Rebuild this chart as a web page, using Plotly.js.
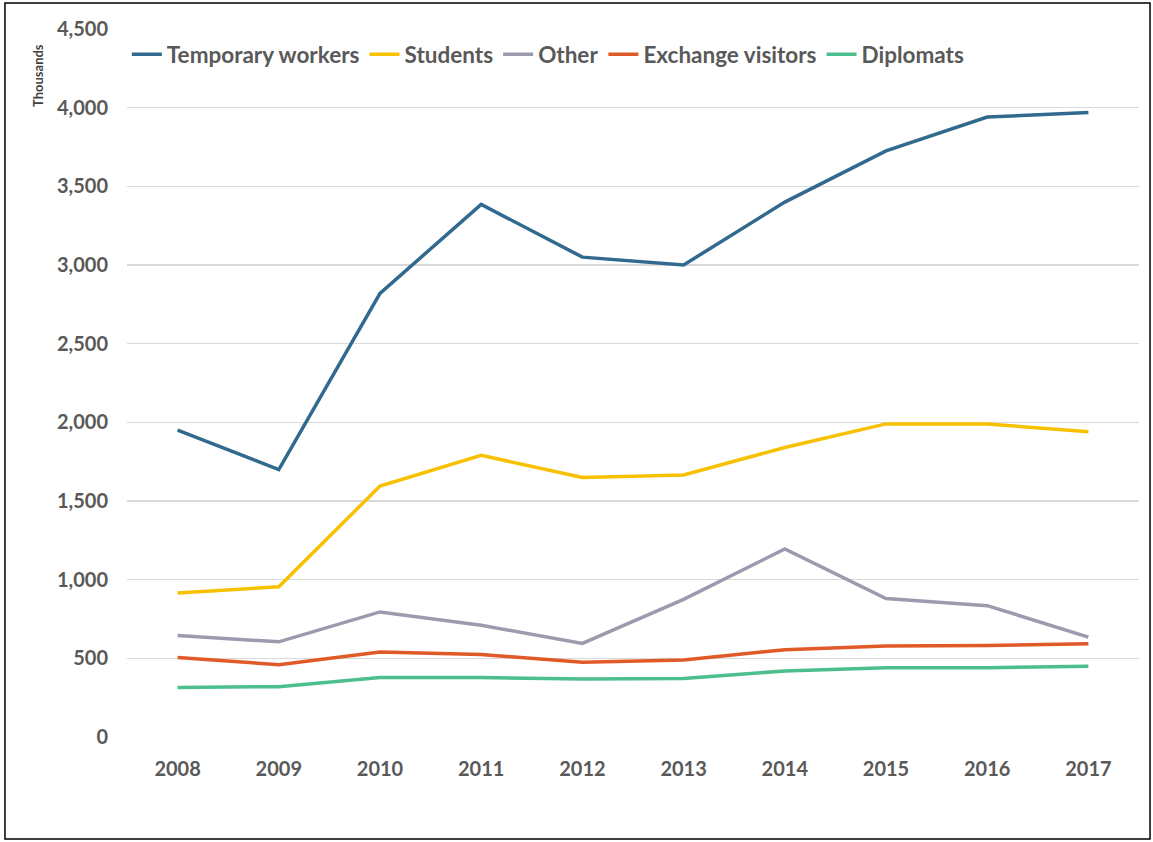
<!DOCTYPE html>
<html>
<head>
<meta charset="utf-8">
<script src="https://cdn.plot.ly/plotly-3.0.1.min.js"></script>
<style>html,body{margin:0;padding:0;background:#fff;} #chart{width:1153px;height:842px;}</style>
</head>
<body>
<div id="chart"></div>
<script>
const years = ['2008','2009','2010','2011','2012','2013','2014','2015','2016','2017'];
const temporaryWorkers = [1950, 1700, 2820, 3385, 3050, 3000, 3400, 3725, 3940, 3970];
const students = [915, 955, 1595, 1790, 1650, 1665, 1840, 1990, 1990, 1940];
const other = [645, 605, 795, 710, 595, 875, 1195, 880, 835, 635];
const exchangeVisitors = [505, 460, 540, 525, 475, 490, 555, 578, 582, 592];
const diplomats = [315, 320, 378, 378, 368, 372, 420, 440, 440, 450];

const seriesNames = ['Temporary workers', 'Students', 'Other', 'Exchange visitors', 'Diplomats'];
const seriesValues = [temporaryWorkers, students, other, exchangeVisitors, diplomats];
const seriesColors = ['#326a8f', '#f7c100', '#9d9aae', '#e05a28', '#4cbf8c'];

const traces = seriesNames.map((n, i) => ({
  type: 'scatter', mode: 'lines', name: n, x: years, y: seriesValues[i],
  line: {color: seriesColors[i], width: 3.5}
}));

const fontFam = 'Lato, "Open Sans", sans-serif';
const layout = {
  width: 1153, height: 842,
  margin: {l: 127, r: 14, t: 29, b: 105, autoexpand: false},
  paper_bgcolor: '#ffffff', plot_bgcolor: '#ffffff',
  font: {family: fontFam, color: '#595959', size: 20, weight: 'bold'},
  showlegend: true,
  legend: {orientation: 'h', xref: 'container', x: 0.110, xanchor: 'left', yref: 'container', y: 0.935, yanchor: 'middle',
           bgcolor: 'rgba(0,0,0,0)', font: {size: 22.5, color: '#595959', family: fontFam, weight: 'bold'},
           tracegroupgap: 0},
  xaxis: {type: 'category', range: [-0.5, 9.5], showgrid: false, zeroline: false, showline: false, ticks: '',
          tickfont: {size: 20, color: '#595959', family: fontFam, weight: 'bold'}, ticklabelstandoff: 18},
  yaxis: {range: [0, 4500], dtick: 500, tickformat: ',', showgrid: true, gridcolor: '#d9d9d9', gridwidth: 1.2,
          zeroline: false, showline: false, ticks: '',
          tickfont: {size: 20, color: '#595959', family: fontFam, weight: 'bold'}, ticklabelstandoff: 18},
  annotations: [{text: 'Thousands', xref: 'paper', yref: 'paper', x: -0.088, y: 0.935,
                 xanchor: 'center', yanchor: 'middle', textangle: -90, showarrow: false,
                 font: {size: 13, color: '#404040', family: fontFam, weight: 'bold'}}],
  shapes: [{type: 'rect', xref: 'paper', yref: 'paper', x0: -0.1206, x1: 1.0109, y0: -0.1441, y1: 1.0367,
            line: {color: '#000000', width: 1.5}, fillcolor: 'rgba(0,0,0,0)', layer: 'above'}]
};

Plotly.newPlot('chart', traces, layout, {displayModeBar: false, staticPlot: true});
</script>
</body>
</html>
